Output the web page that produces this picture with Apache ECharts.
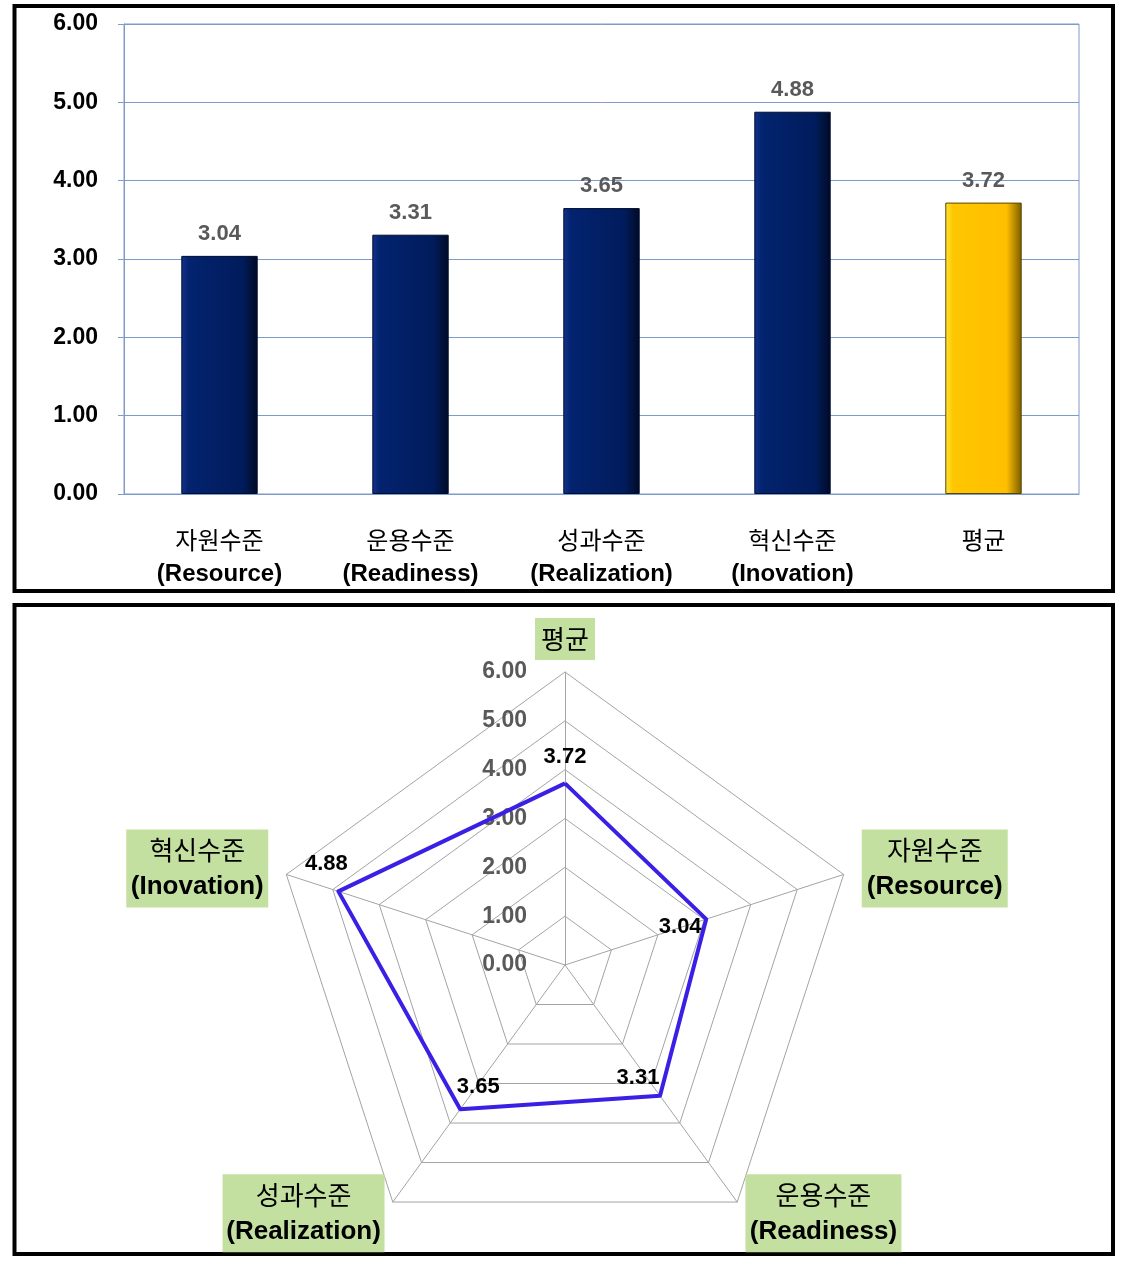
<!DOCTYPE html>
<html>
<head>
<meta charset="utf-8">
<script src="https://cdn.jsdelivr.net/npm/echarts@6/dist/echarts.min.js"></script>
<style>
  html, body { margin: 0; padding: 0; background: #fff; }
  #main { width: 1128px; height: 1264px; }
</style>
</head>
<body>
<div id="main"></div>
<script>
// 막대 그래프 데이터
const categories = ['자원수준', '운용수준', '성과수준', '혁신수준', '평균'];
const englishNames = ['Resource', 'Readiness', 'Realization', 'Inovation', ''];
const scores = [3.04, 3.31, 3.65, 4.88, 3.72];
const yTicks = [0, 1, 2, 3, 4, 5, 6];

// 레이더 차트 데이터 (평균부터 반시계 방향)
const radarNames = ['평균', '혁신수준', '성과수준', '운용수준', '자원수준'];
const radarEnglish = ['', 'Inovation', 'Realization', 'Readiness', 'Resource'];
const radarScores = [3.72, 4.88, 3.65, 3.31, 3.04];
const radarMax = 6;

const FONT = "'Liberation Sans', 'Noto Sans CJK KR', sans-serif";
const KFONT = "'Noto Sans CJK KR', sans-serif";
const GRID_COLOR = '#7f9bc9';

const navy = new echarts.graphic.LinearGradient(0, 0, 1, 0, [
  { offset: 0, color: '#12338c' },
  { offset: 0.1, color: '#03236f' },
  { offset: 0.8, color: '#011c5c' },
  { offset: 1, color: '#000a24' }
]);
const gold = new echarts.graphic.LinearGradient(0, 0, 1, 0, [
  { offset: 0, color: '#ffe43a' },
  { offset: 0.1, color: '#ffc600' },
  { offset: 0.8, color: '#ffbf00' },
  { offset: 1, color: '#7a5c00' }
]);

// 레이더 라벨 위치 (차원별 오프셋)
const labelOffsets = [[0, -26], [-12, -27], [18, -22], [-22, -18], [-26, 8]];
// 이름 상자 안쪽 폭 (두 줄 가운데 정렬용), 축별 이름 간격
const nameWidths = [54, 136, 156, 150, 140];
const nameGaps = [12, 19, 14, 14, 19];

const labelSeries = labelOffsets.map(function (off, k) {
  return {
    type: 'radar',
    silent: true,
    symbol: 'circle',
    symbolSize: 1,
    itemStyle: { color: 'rgba(0,0,0,0)' },
    lineStyle: { width: 0, opacity: 0 },
    label: {
      show: true,
      position: 'inside',
      offset: off,
      color: '#000',
      fontFamily: FONT,
      fontWeight: 'bold',
      fontSize: 22,
      formatter: function (p) {
        return p.dimensionIndex === k ? p.value.toFixed(2) : '';
      }
    },
    data: [{ value: radarScores }]
  };
});

const nameRich = {};
nameWidths.forEach(function (w, i) {
  nameRich['k' + i] = { fontFamily: KFONT, fontSize: 26, lineHeight: 36, color: '#000', width: w, align: 'center' };
  nameRich['e' + i] = { fontFamily: FONT, fontWeight: 'bold', fontSize: 26, lineHeight: 36, color: '#000', width: w, align: 'center' };
});

const option = {
  animation: false,
  graphic: [
    {
      type: 'rect',
      shape: { x: 14.5, y: 6, width: 1098.5, height: 585 },
      style: { fill: 'none', stroke: '#000', lineWidth: 4 }
    },
    {
      type: 'rect',
      shape: { x: 14.5, y: 605, width: 1098.5, height: 649 },
      style: { fill: 'none', stroke: '#000', lineWidth: 4 }
    }
  ],
  grid: {
    left: 124,
    right: 49,
    top: 24,
    bottom: 770,
    show: true,
    borderColor: GRID_COLOR,
    borderWidth: 1
  },
  xAxis: {
    type: 'category',
    data: categories,
    axisLine: { lineStyle: { color: GRID_COLOR } },
    axisTick: { length: 8, lineStyle: { color: GRID_COLOR } },
    axisLabel: {
      margin: 29,
      interval: 0,
      formatter: function (v, i) {
        return englishNames[i] ? '{k|' + v + '}\n{e|(' + englishNames[i] + ')}' : '{k|' + v + '}';
      },
      rich: {
        k: { fontFamily: KFONT, fontSize: 24, lineHeight: 34, color: '#000' },
        e: { fontFamily: FONT, fontWeight: 'bold', fontSize: 24, lineHeight: 34, color: '#000' }
      }
    }
  },
  yAxis: {
    type: 'value',
    min: yTicks[0],
    max: yTicks[yTicks.length - 1],
    interval: 1,
    axisLine: { show: true, lineStyle: { color: GRID_COLOR } },
    axisTick: { show: true, length: 6, lineStyle: { color: GRID_COLOR } },
    splitLine: { lineStyle: { color: GRID_COLOR } },
    axisLabel: {
      margin: 26,
      color: '#000',
      fontFamily: FONT,
      fontWeight: 'bold',
      fontSize: 23,
      formatter: function (v) { return v.toFixed(2); }
    }
  },
  radar: {
    center: [565, 965],
    radius: 293,
    startAngle: 90,
    splitNumber: 6,
    shape: 'polygon',
    indicator: radarNames.map(function (n, i) {
      const ind = { name: n, min: 0, max: radarMax, nameGap: nameGaps[i] };
      if (i === 0) ind.axisLabel = { show: true };
      return ind;
    }),
    axisName: {
      color: '#000',
      fontFamily: FONT,
      fontSize: 26,
      lineHeight: 36,
      backgroundColor: '#c4e0a0',
      padding: [3, 3],
      formatter: function (v) {
        const i = radarNames.indexOf(v);
        return radarEnglish[i]
          ? '{k' + i + '|' + v + '}\n{e' + i + '|(' + radarEnglish[i] + ')}'
          : '{k' + i + '|' + v + '}';
      },
      rich: nameRich
    },
    nameGap: 19,
    axisLine: { lineStyle: { color: '#a3a3a3' } },
    splitLine: { lineStyle: { color: '#a3a3a3' } },
    splitArea: { show: false },
    axisTick: { show: false },
    axisLabel: {
      show: false,
      margin: 38,
      color: '#595959',
      fontFamily: FONT,
      fontWeight: 'bold',
      fontSize: 23,
      formatter: function (v) { return Number(v).toFixed(2); }
    }
  },
  series: [
    {
      type: 'bar',
      barWidth: '40%',
      data: scores.map(function (v, i) {
        return {
          value: v,
          itemStyle: {
            color: i === scores.length - 1 ? gold : navy,
            borderColor: i === scores.length - 1 ? '#5a4500' : '#000c30',
            borderWidth: 1
          }
        };
      }),
      label: {
        show: true,
        position: 'top',
        distance: 11,
        color: '#595959',
        fontFamily: FONT,
        fontWeight: 'bold',
        fontSize: 22,
        formatter: function (p) { return p.value.toFixed(2); }
      }
    },
    {
      type: 'radar',
      symbol: 'none',
      lineStyle: { color: '#3a20e4', width: 4 },
      data: [{ value: radarScores }]
    }
  ].concat(labelSeries)
};

const myChart = echarts.init(document.getElementById('main'));
myChart.setOption(option);
</script>
</body>
</html>
